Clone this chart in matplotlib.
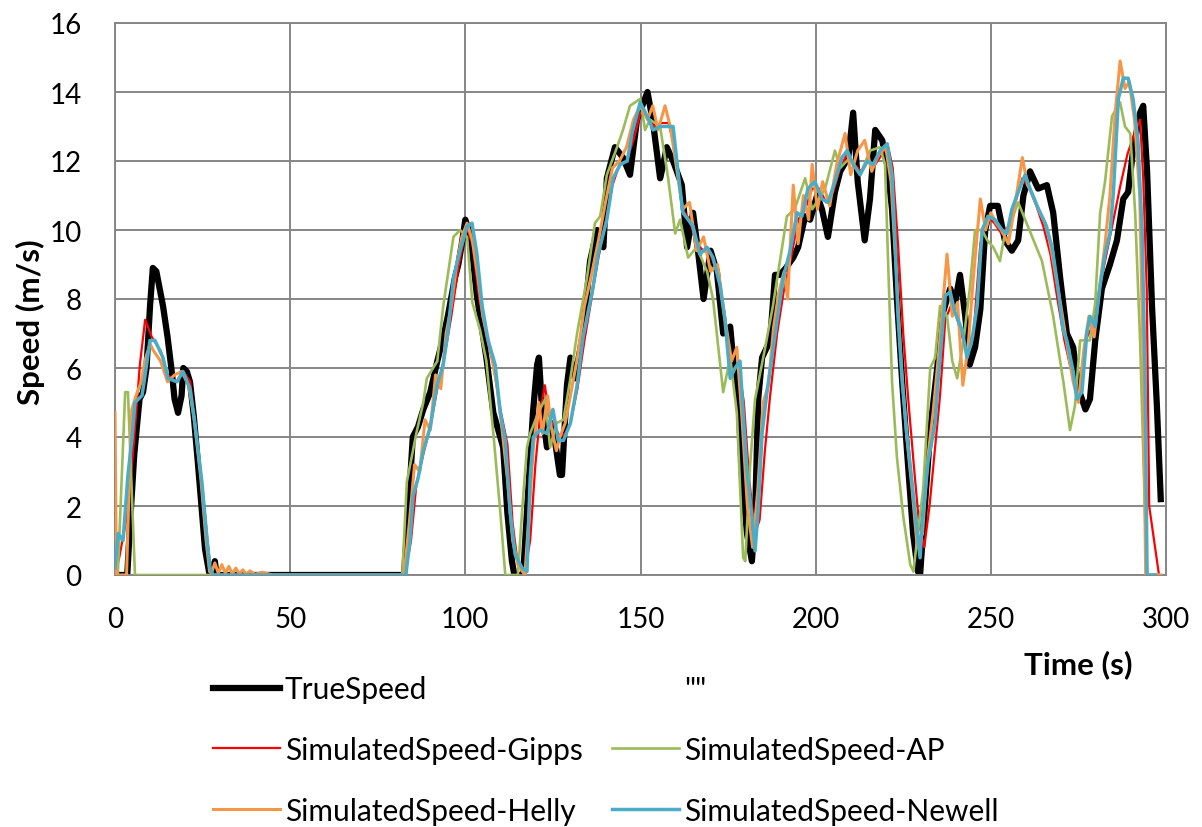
import matplotlib
matplotlib.use("Agg")
import matplotlib.pyplot as plt
from matplotlib.lines import Line2D

plt.rcParams['font.family'] = ['Lato', 'DejaVu Sans']

# --- data (time in s, speed in m/s) ---
true_t = [0, 3.5, 4.3, 5.5, 7, 8, 9, 10, 10.8, 11.8, 13.7, 15, 16.2, 17, 18, 19, 19.5, 20.5, 21.4, 22.5,
          23.7, 25.7, 27, 28, 28.5, 29, 82.5, 83.5, 85, 86.5, 88, 90, 92, 93.5, 95, 97, 98, 99, 100, 101.5,
          103.3, 106, 108, 110.8, 112, 113.3, 114, 116.5, 118, 119.3, 120.5, 121, 121.9, 123.3, 125, 126, 127,
          127.6, 129, 130, 131.3, 133.6, 135.6, 137.6, 139.4, 140.4, 142.7, 145, 147, 149, 150.5, 152, 153.6,
          155.6, 156.5, 157.5, 159.3, 161.8, 163.3, 165, 166.4, 168, 170, 171.8, 173.6, 175.6, 176.5, 178, 179,
          180.4, 181.8, 182.7, 183.6, 184.7, 187, 188.4, 189.8, 191.5, 193.6, 195, 197, 198.4, 200.4, 201.8,
          203.5, 205.5, 207, 209.3, 210.7, 212, 214, 215.5, 217, 219, 220.4, 221.8, 223.2, 224.7, 226, 227.8,
          229.2, 229.8, 230.7, 232.7, 234.7, 236, 238.4, 239.8, 241.2, 242.7, 244, 245.5, 247, 248.4, 249.8,
          252, 254, 256, 257.8, 259.3, 261.2, 263.5, 266, 267.8, 269.8, 271.7, 273.5, 275, 277, 278.3, 279.8,
          281.7, 284, 286, 287.8, 289.2, 290.6, 292.6, 293.5, 294.6, 296, 297.4, 298.5]
true_v = [0, 0, 1.5, 3.5, 5.1, 5.3, 6.0, 7.8, 8.9, 8.8, 7.8, 6.9, 5.9, 5.1, 4.7, 5.2, 6.0, 5.9, 5.6, 4.6,
          3.2, 0.75, 0, 0.1, 0.4, 0, 0, 1.5, 4.0, 4.3, 4.8, 5.3, 6.2, 6.8, 7.5, 8.6, 9.0, 9.6, 10.3, 9.8,
          8.1, 6.3, 4.7, 3.7, 1.8, 0.4, 0, 0, 2.5, 4.7, 6.1, 6.3, 4.8, 3.7, 4.3, 3.6, 2.9,
          2.9, 5.5, 6.3, 5.7, 7.0, 9.1, 10.0, 9.5, 11.5, 12.4, 12.1, 11.6, 13.2, 13.6, 14.0, 13.1,
          11.5, 11.9, 12.4, 12.0, 11.3, 9.5, 10.5, 9.4, 8.0, 9.4, 8.8, 7.0, 7.2, 6.2, 5.0, 2.8,
          1.2, 0.4, 1.7, 5.1, 6.3, 6.8, 8.7, 8.7, 8.9, 9.2, 9.5, 10.4, 10.3, 11.0, 10.6,
          9.8, 11.1, 11.7, 12.1, 13.4, 11.4, 9.7, 10.9, 12.9, 12.6, 11.9, 10.6, 8.0, 5.6, 3.7, 1.2,
          0.1, 0, 1.3, 4.2, 6.0, 7.5, 8.3, 7.9, 8.7, 7.5, 6.1, 6.6, 7.7, 10.0, 10.7,
          10.7, 9.7, 9.4, 9.7, 11.0, 11.7, 11.2, 11.3, 10.5, 8.6, 7.0, 6.6, 5.4, 4.8, 5.1, 6.8,
          8.3, 9.0, 9.7, 10.9, 11.1, 12.3, 13.4, 13.6, 11.7, 7.8, 4.9, 2.2]

gipps_t = [0, 1.2, 3.4, 5.2, 7.1, 8.6, 10.5, 13, 15, 17.5, 19.5, 21.5, 23, 25, 26.5, 27.5, 82.8, 84.5, 86, 88,
           90, 92, 94, 96, 98, 100.3, 102, 104, 106, 108, 110, 112, 113.5, 115, 117, 118.5, 120, 121.5, 122.7,
           124, 125.5, 127, 128.5, 130, 132, 134, 136, 138, 140, 142, 144, 146, 148, 150, 152, 154, 156, 158,
           160, 162, 164, 166, 168, 170, 172, 174, 176, 178, 179.5, 181, 182.7, 184, 185.5, 187, 189, 191, 193,
           195, 197, 199, 201, 203, 205, 207, 209, 211, 213, 215, 217, 219, 220.5, 222, 223.5, 225, 226.5, 228,
           229.5, 231, 232.5, 234, 235.5, 237, 239, 241, 243, 245, 247, 249, 251, 253, 255, 257, 259, 261, 263,
           265, 267, 269, 271, 273, 275, 277, 279, 281, 283, 285, 287, 289, 291, 292.6, 293.5, 294.5, 295.2, 298]
gipps_v = [0, 0.5, 1.7, 3.6, 6.1, 7.4, 6.9, 6.5, 5.8, 5.6, 5.9, 5.6, 4.2, 2.5, 0.9, 0, 0, 1.0, 2.6, 3.5,
           4.3, 5.4, 6.3, 7.5, 8.9, 10.1, 9.6, 8.0, 6.9, 6.1, 4.8, 3.8, 1.5, 0.3, 0.1, 1.0, 3.2, 4.8, 5.5,
           4.6, 4.3, 4.0, 4.1, 4.4, 5.4, 6.8, 8.0, 9.2, 10.2, 11.3, 11.9, 12.0, 12.6, 13.4, 13.3, 13.0, 13.1, 13.1,
           12.3, 10.6, 10.3, 9.6, 9.4, 9.3, 8.7, 7.6, 5.9, 6.1, 5.0, 2.8, 1.2, 1.6, 3.6, 5.2, 7.0, 8.3, 9.2,
           10.3, 10.6, 11.2, 11.2, 10.8, 11.1, 11.8, 12.2, 11.9, 11.7, 12.0, 11.9, 12.2, 12.5, 11.8, 9.6, 7.0, 5.0, 3.2,
           1.5, 0.8, 2.0, 3.6, 5.2, 7.4, 7.9, 7.2, 6.5, 6.9, 9.6, 10.4, 10.2, 9.9, 10.1, 10.8, 11.5, 11.2, 10.7,
           10.1, 9.3, 8.0, 6.8, 5.9, 5.2, 6.8, 7.2, 8.3, 9.3, 10.3, 11.3, 12.2, 12.8, 13.2, 11.5, 8.3, 2.0, 0]

ap_t = [0, 0.8, 2.9, 3.7, 5.7, 81, 82, 83.3, 86, 88, 89, 92, 93.7, 96.6, 98.5, 100.5, 102, 104.2, 106, 108,
        110, 111.4, 115, 116.3, 117.6, 118.5, 120.8, 122.8, 124.2, 126, 128, 130, 131.9, 134.7, 137, 138.5,
        140.4, 143.3, 145, 147, 149.9, 151.3, 152.7, 155.6, 157.9, 159.9, 161.3, 163.6, 166, 169, 170.7, 173.6,
        175.6, 177.5, 179.3, 179.9, 181.3, 182.7, 185.6, 187.8, 191.8, 194, 197, 199, 202.7, 205.5, 207, 209.8,
        212.7, 215.5, 218.4, 219.8, 220.7, 221.8, 223.2, 225, 227, 227.9, 229.5, 230.7, 232.7, 234.1, 235.5,
        237.5, 239, 240.4, 242.2, 244, 245.5, 247.5, 249, 250.7, 252.6, 254, 256, 257.8, 259.8, 261.8, 264.6,
        267.8, 270.7, 272.6, 274, 275.5, 278.3, 279.8, 281.2, 282.6, 284.6, 286.9, 288.3, 289.8, 291.2, 292.6,
        294, 294.6, 298]
ap_v = [0, 0, 5.3, 5.3, 0, 0, 0, 2.7, 4.1, 5.0, 5.7, 6.2, 7.8, 9.8, 10.0, 9.8, 7.9, 7.1, 6.2, 4.1,
        1.8, 0, 0, 2.0, 3.7, 4.1, 4.7, 5.1, 3.7, 4.4, 4.5, 5.7, 7.0, 8.6, 10.2, 10.4,
        11.6, 12.4, 12.9, 13.6, 13.8, 12.9, 13.2, 13.0, 11.5, 9.9, 10.3, 9.2, 9.5, 8.8, 8.0, 5.3,
        6.3, 4.7, 0.5, 0.4, 3.2, 5.1, 6.6, 7.8, 10.4, 10.6, 11.5, 10.6, 11.2, 12.3, 11.8, 12.1,
        11.6, 12.3, 12.4, 11.9, 9.0, 5.6, 3.4, 1.7, 0.3, 0.1, 1.5, 2.5, 6.0, 6.3, 7.8,
        7.5, 6.2, 5.7, 6.8, 8.3, 10.0, 10.0, 9.7, 9.5, 9.1, 9.9, 10.3, 10.8, 10.3, 9.8, 9.1,
        7.5, 5.6, 4.2, 4.9, 6.8, 6.8, 7.9, 10.5, 11.4, 13.3, 13.7, 13.0, 12.8, 10.5, 6.8,
        1.8, 0, 0]

helly_t = [0, 0.4, 3.3, 4, 4.8, 6, 7.5, 8.5, 10, 11, 13, 15, 17, 19, 21, 22.5, 24.5, 26, 27, 27.5, 28.5,
           29.5, 30.5, 31.5, 32.5, 33.5, 34.5, 35.5, 36.5, 37.5, 38.5, 40, 42, 45, 82.5, 84, 85.5, 87, 88.5,
           90, 91.5, 93, 94.5, 96, 97.5, 99, 100.5, 102, 103.5, 105, 107, 109, 110.5, 112, 113.5, 115, 117,
           118, 119.5, 121, 122, 123.5, 124.5, 126, 127, 128.5, 130, 132, 134, 136, 138, 140, 142, 144, 146,
           148, 150, 152, 153.5, 155, 157, 158.5, 160, 162, 164, 166, 168, 170, 172, 174, 176, 177.5, 179,
           180.5, 182, 183.5, 185, 186.5, 188, 189.5, 191, 192, 193.6, 195, 196.5, 198, 199, 200.5, 202, 204,
           206, 208.4, 210, 212, 214, 216, 218, 220, 221.5, 223, 224.5, 226, 227.5, 229, 230.5, 232, 233.5,
           235, 237.5, 239, 240.5, 242, 243.5, 245, 247, 248.5, 250, 251.5, 253, 255, 257, 259, 260.5, 262,
           264, 266, 268, 270, 272, 273.5, 275, 276.5, 278, 279.5, 281, 282.5, 284, 285.5, 286.9, 288.3,
           289.5, 291, 292.5, 293.5, 294.2, 298.5]
helly_v = [4.7, 0, 0, 2.5, 4.8, 5.2, 5.6, 6.2, 6.7, 6.5, 6.2, 5.6, 5.8, 5.9, 5.5, 4.6, 2.8, 1.0, 0.1, 0.05, 0.35,
           0.05, 0.3, 0.05, 0.25, 0.03, 0.2, 0.03, 0.15, 0.02, 0.12, 0.02, 0.08, 0, 0, 1.5, 3.2, 3.0, 4.5,
           4.2, 5.8, 5.4, 7.0, 7.8, 9.0, 9.8, 10.2, 9.7, 8.7, 7.5, 6.6, 5.5, 4.2, 2.8, 1.0, 0.3, 0,
           1.5, 3.8, 5.0, 4.1, 5.2, 4.3, 3.6, 4.0, 4.4, 5.2, 6.3, 7.8, 8.7, 9.7, 10.8, 11.8, 12.0, 12.4,
           13.2, 13.6, 13.2, 13.6, 12.9, 13.6, 13.0, 12.0, 10.6, 10.8, 9.4, 9.8, 8.8, 9.0, 7.5, 6.2, 6.6, 4.5,
           2.0, 0.8, 2.5, 5.0, 5.5, 7.2, 8.2, 8.8, 8.0, 11.3, 9.6, 11.0, 10.3, 11.9, 10.6, 11.4, 10.7,
           11.9, 12.8, 11.6, 12.3, 12.6, 11.7, 12.2, 12.4, 11.4, 8.8, 6.0, 4.0, 2.5, 0.8, 1.2, 3.4, 4.7,
           6.3, 9.3, 7.5, 7.9, 5.5, 6.6, 8.6, 10.9, 10.0, 10.5, 10.2, 10.0, 9.6, 10.8, 12.1, 11.3, 11.0,
           10.5, 10.1, 9.0, 7.8, 6.5, 5.6, 5.0, 6.5, 7.5, 6.9, 8.3, 9.5, 11.0, 13.4, 14.9, 14.1,
           14.3, 13.2, 11.0, 6.0, 0, 0]

newell_t = [0, 0.9, 2.3, 3.7, 4.9, 5.7, 7.7, 8.6, 10, 11.4, 13.7, 15.1, 17.7, 19.4, 21.4, 22.8, 24.8, 26.3, 27.1,
            28, 83, 84.2, 85.1, 86.5, 88, 90, 91.9, 93.7, 95.1, 96.6, 98.5, 100.5, 101.9, 103.3, 104.8, 106.5,
            108.5, 110, 111.4, 112.8, 114.2, 116.2, 117.6, 118.5, 119.4, 121.3, 123.3, 125, 126.5, 128, 130,
            131.9, 133.6, 136.2, 137.9, 140.4, 142.2, 144.2, 146.2, 147.6, 149.9, 151.9, 153.6, 155.6, 157.6,
            159.3, 160.7, 162.1, 163.6, 165, 167, 169, 170.7, 172.7, 174.1, 175.6, 177, 178.4, 179.3, 180.4,
            181.8, 182.7, 183.6, 184.7, 186.1, 187.5, 189.3, 190.7, 192.7, 194.7, 196.1, 197.8, 199.8, 201.8,
            203.5, 205.5, 207.5, 209, 210.7, 212.7, 214.7, 216.4, 218.4, 220.4, 221.8, 222.7, 223.5, 224.7, 226,
            227.5, 228.9, 229.8, 230.4, 232.1, 234.1, 235, 237, 238.4, 239.8, 241.8, 243.2, 244.6, 246.1, 247.5,
            249.2, 251.2, 253.2, 254.6, 256, 257.8, 259.8, 261.2, 263.2, 265.5, 267.5, 269.2, 270.6, 271.7,
            273.5, 274.6, 276, 277.4, 278.3, 279.8, 281.2, 282.6, 284, 285, 286.4, 287.8, 289.2, 290.6, 292,
            293.2, 294, 294.6, 297]
newell_v = [0.2, 1.2, 1.0, 2.9, 4.0, 5.0, 5.2, 5.8, 6.8, 6.8, 6.3, 5.7, 5.6, 5.9, 5.4, 4.4, 2.7, 1.0, 0.2,
            0, 0, 1.0, 2.3, 2.8, 3.6, 4.3, 5.5, 6.1, 7.1, 8.6, 9.4, 10.1, 10.2, 9.3, 7.8, 6.8,
            6.1, 4.7, 3.9, 1.8, 0.6, 0.2, 0.1, 2.8, 4.0, 4.2, 4.1, 4.8, 3.9, 3.9, 4.4,
            5.5, 6.9, 8.2, 9.3, 10.3, 11.5, 11.9, 12.0, 12.8, 13.7, 13.3, 12.9, 13.0, 13.0,
            13.0, 11.7, 10.5, 10.3, 10.1, 9.3, 9.5, 9.2, 8.4, 7.4, 5.7, 6.0, 6.2, 4.7, 3.0,
            1.7, 0.7, 1.9, 4.1, 5.3, 6.3, 7.6, 8.6, 9.4, 10.5, 10.4, 11.2, 11.4, 10.9,
            10.8, 11.4, 12.1, 12.3, 11.9, 11.6, 12.0, 11.9, 12.3, 12.5, 11.6, 9.6, 7.5, 5.6, 4.1,
            2.7, 1.3, 0.5, 1.5, 3.3, 4.4, 5.7, 8.1, 8.2, 7.6, 7.1, 6.3, 6.8, 7.8, 10.0,
            10.4, 10.3, 10.0, 9.9, 10.6, 11.1, 11.6, 11.2, 10.7, 10.2, 9.5, 8.3, 7.1, 6.8,
            5.9, 5.1, 5.3, 7.0, 7.5, 7.2, 8.4, 9.3, 9.9, 11.1, 13.8, 14.4, 14.4, 13.8, 12.6,
            9.9, 5.9, 0, 0]

series = [
    ("TrueSpeed", true_t, true_v, "#000000", 4.5, 1),
    ("SimulatedSpeed-Gipps", gipps_t, gipps_v, "#FF0000", 1.6, 2),
    ("SimulatedSpeed-AP", ap_t, ap_v, "#9BBB59", 1.9, 3),
    ("SimulatedSpeed-Helly", helly_t, helly_v, "#F79646", 2.2, 4),
    ("SimulatedSpeed-Newell", newell_t, newell_v, "#4BACC6", 2.5, 5),
]

fig = plt.figure(figsize=(12.02, 8.28), dpi=100)
ax = fig.add_axes([115 / 1202, 1 - 576 / 828, (1166 - 115) / 1202, (576 - 24) / 828])

lines = {}
for name, t, v, color, lw, z in series:
    lines[name], = ax.plot(t, v, color=color, lw=lw, zorder=z, solid_joinstyle='round', label=name)

ax.set_xlim(0, 300)
ax.set_ylim(0, 16)
ax.set_xticks(range(0, 301, 50))
ax.set_yticks(range(0, 17, 2))
ax.grid(True, color='#868686', lw=1.4)
ax.set_axisbelow(True)
for sp in ax.spines.values():
    sp.set_color('#868686')
    sp.set_linewidth(1.4)
ax.tick_params(length=0, labelsize=20)
ax.tick_params(axis='y', pad=24)
ax.tick_params(axis='x', pad=22)

# axis titles placed where the reference has them
fig.text(30 / 1202, 1 - 322 / 828, "Speed (m/s)", fontsize=22.5, fontweight='bold',
         rotation=90, ha='center', va='center')
fig.text(1078 / 1202, 1 - 665 / 828, "Time (s)", fontsize=22.5, fontweight='bold',
         ha='center', va='center')

blank = Line2D([], [], color='none', label='""')
handles = [lines["TrueSpeed"], lines["SimulatedSpeed-Gipps"], lines["SimulatedSpeed-Helly"],
           blank, lines["SimulatedSpeed-AP"], lines["SimulatedSpeed-Newell"]]
fig.legend(handles=handles, labels=[h.get_label() for h in handles], ncol=2,
           loc='upper left', bbox_to_anchor=(213 / 1202, 1 - 676 / 828),
           frameon=False, fontsize=21.5, handlelength=2.24, handletextpad=0.17,
           labelspacing=1.1, columnspacing=0.97, borderpad=0, borderaxespad=0)

fig.savefig("out.png", dpi=100)
